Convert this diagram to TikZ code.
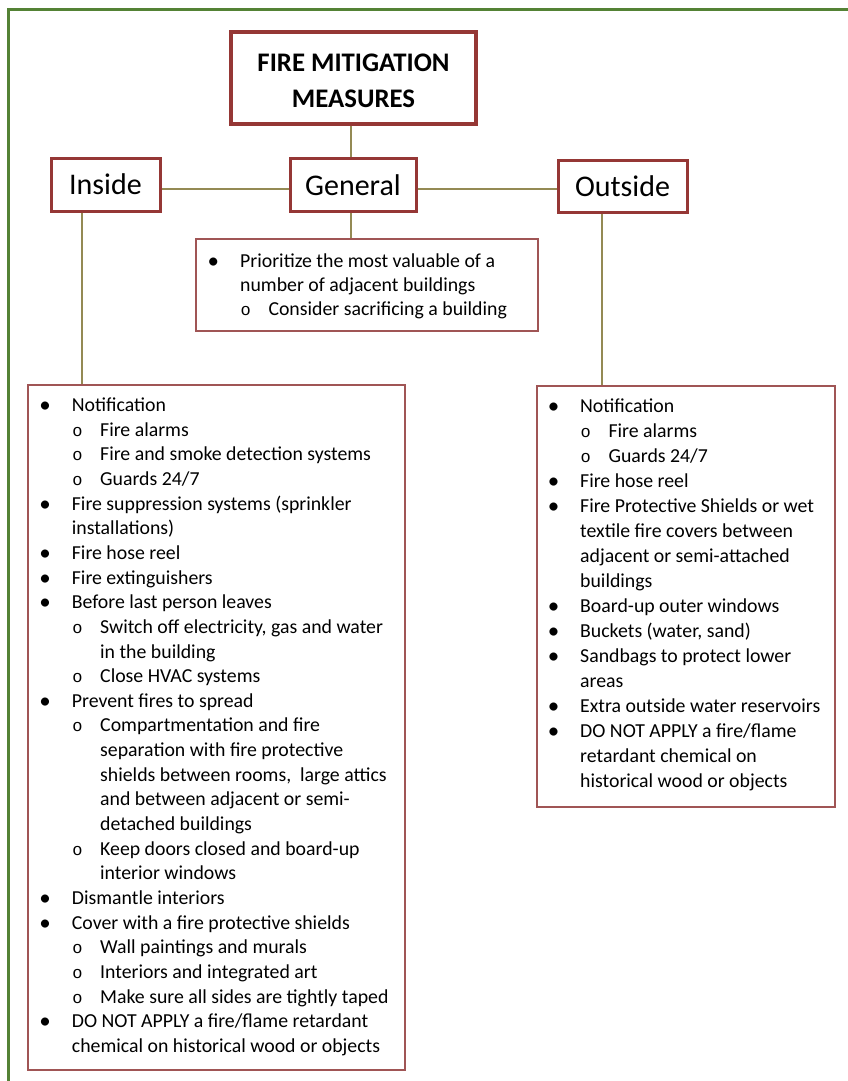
\documentclass[tikz,border=0pt]{standalone}
\usepackage{fontspec}
\setmainfont{Carlito}
\newfontfamily\monof{Liberation Mono}
\usetikzlibrary{calc}
\definecolor{framec}{HTML}{548235}
\definecolor{boxred}{HTML}{953735}
\definecolor{lightred}{HTML}{A05555}
\definecolor{connc}{HTML}{948A54}
\newcommand\Bu{\makebox[0pt][r]{\raisebox{-1pt}{\fontsize{23}{23}\selectfont\textbullet}\hspace*{21pt}}}
\newcommand\Su{\hspace*{0.5pt}\makebox[27.8pt][l]{{\monof\fontsize{17}{17}\selectfont o}}}
\newcommand\Sc{\hspace*{28.3pt}}
\begin{document}
\begin{tikzpicture}[x=1pt,y=-1pt,
  lab/.style={draw=boxred, line width=3pt, fill=white, inner sep=0pt, font=\fontsize{30}{36}\selectfont},
  cbox/.style={draw=lightred, line width=1.3pt, inner sep=0pt},
  connl/.style={draw=connc, line width=2pt},
  listtext/.style={anchor=base west, inner sep=0pt}]
\useasboundingbox (0,0) rectangle (848,1081);
\fill[white] (0,0) rectangle (848,1081);
\draw[framec, line width=3pt] (850,10) -- (8,10) -- (8,1083);

\node[lab, line width=4pt, minimum width=245pt, minimum height=92pt] (title) at (353.5,78) {};
\node[inner sep=0pt, align=center, font=\bfseries\fontsize{26.8}{35.7}\selectfont] (titletext) at (353.5,81) {FIRE MITIGATION\\MEASURES};
\node[lab, minimum width=109pt, minimum height=53pt] (inside) at (105.5,184.5) {Inside};
\node[lab, minimum width=126pt, minimum height=53pt] (general) at (353,185) {General};
\node[lab, minimum width=129pt, minimum height=52pt] (outside) at (622.5,186) {Outside};
\node[cbox, minimum width=342pt, minimum height=92pt] (gbox) at (367,285) {};
\node[cbox, minimum width=377pt, minimum height=685pt] (ibox) at (216.5,727.5) {};
\node[cbox, minimum width=298pt, minimum height=421pt] (obox) at (686,596.5) {};

\draw[connl] (title.south -| 351,0) -- (general.north -| 351,0);
\draw[connl] ([yshift=-4pt]inside.east) -- ([yshift=-4pt]inside.east -| general.west);
\draw[connl] ([yshift=-4pt]general.east) -- ([yshift=-4pt]general.east -| outside.west);
\draw[connl] (general.south -| 351,0) -- (gbox.north -| 351,0);
\coordinate (iv) at ($(inside.south west)+(32,0)$);
\draw[connl] (iv) -- (iv |- ibox.north);
\coordinate (ov) at ($(outside.south west)+(45,0)$);
\draw[connl] (ov) -- (ov |- obox.north);

\node[listtext] (gtext) at (240,267.7) {\parbox[t]{400pt}{\fontsize{19.8}{24}\selectfont\raggedright
\Bu Prioritize the most valuable of a\\
number of adjacent buildings\\
\Su Consider sacrificing a building}};

\node[listtext] (itext) at (71.7,411.5) {\parbox[t]{400pt}{\fontsize{19.8}{24.65}\selectfont\raggedright
\Bu Notification\\
\Su Fire alarms\\
\Su Fire and smoke detection systems\\
\Su Guards 24/7\\
\Bu Fire suppression systems (sprinkler\\
installations)\\
\Bu Fire hose reel\\
\Bu Fire extinguishers\\
\Bu Before last person leaves\\
\Su Switch off electricity, gas and water\\
\Sc in the building\\
\Su Close HVAC systems\\
\Bu Prevent fires to spread\\
\Su Compartmentation and fire\\
\Sc separation with fire protective\\
\Sc shields between rooms, \ large attics\\
\Sc and between adjacent or semi-\\
\Sc detached buildings\\
\Su Keep doors closed and board-up\\
\Sc interior windows\\
\Bu Dismantle interiors\\
\Bu Cover with a fire protective shields\\
\Su Wall paintings and murals\\
\Su Interiors and integrated art\\
\Su Make sure all sides are tightly taped\\
\Bu DO NOT APPLY a fire/flame retardant\\
chemical on historical wood or objects}};

\node[listtext] (otext) at (580,412.7) {\parbox[t]{400pt}{\fontsize{19.8}{25}\selectfont\raggedright
\Bu Notification\\
\Su Fire alarms\\
\Su Guards 24/7\\
\Bu Fire hose reel\\
\Bu Fire Protective Shields or wet\\
textile fire covers between\\
adjacent or semi-attached\\
buildings\\
\Bu Board-up outer windows\\
\Bu Buckets (water, sand)\\
\Bu Sandbags to protect lower\\
areas\\
\Bu Extra outside water reservoirs\\
\Bu DO NOT APPLY a fire/flame\\
retardant chemical on\\
historical wood or objects}};
\end{tikzpicture}
\end{document}
